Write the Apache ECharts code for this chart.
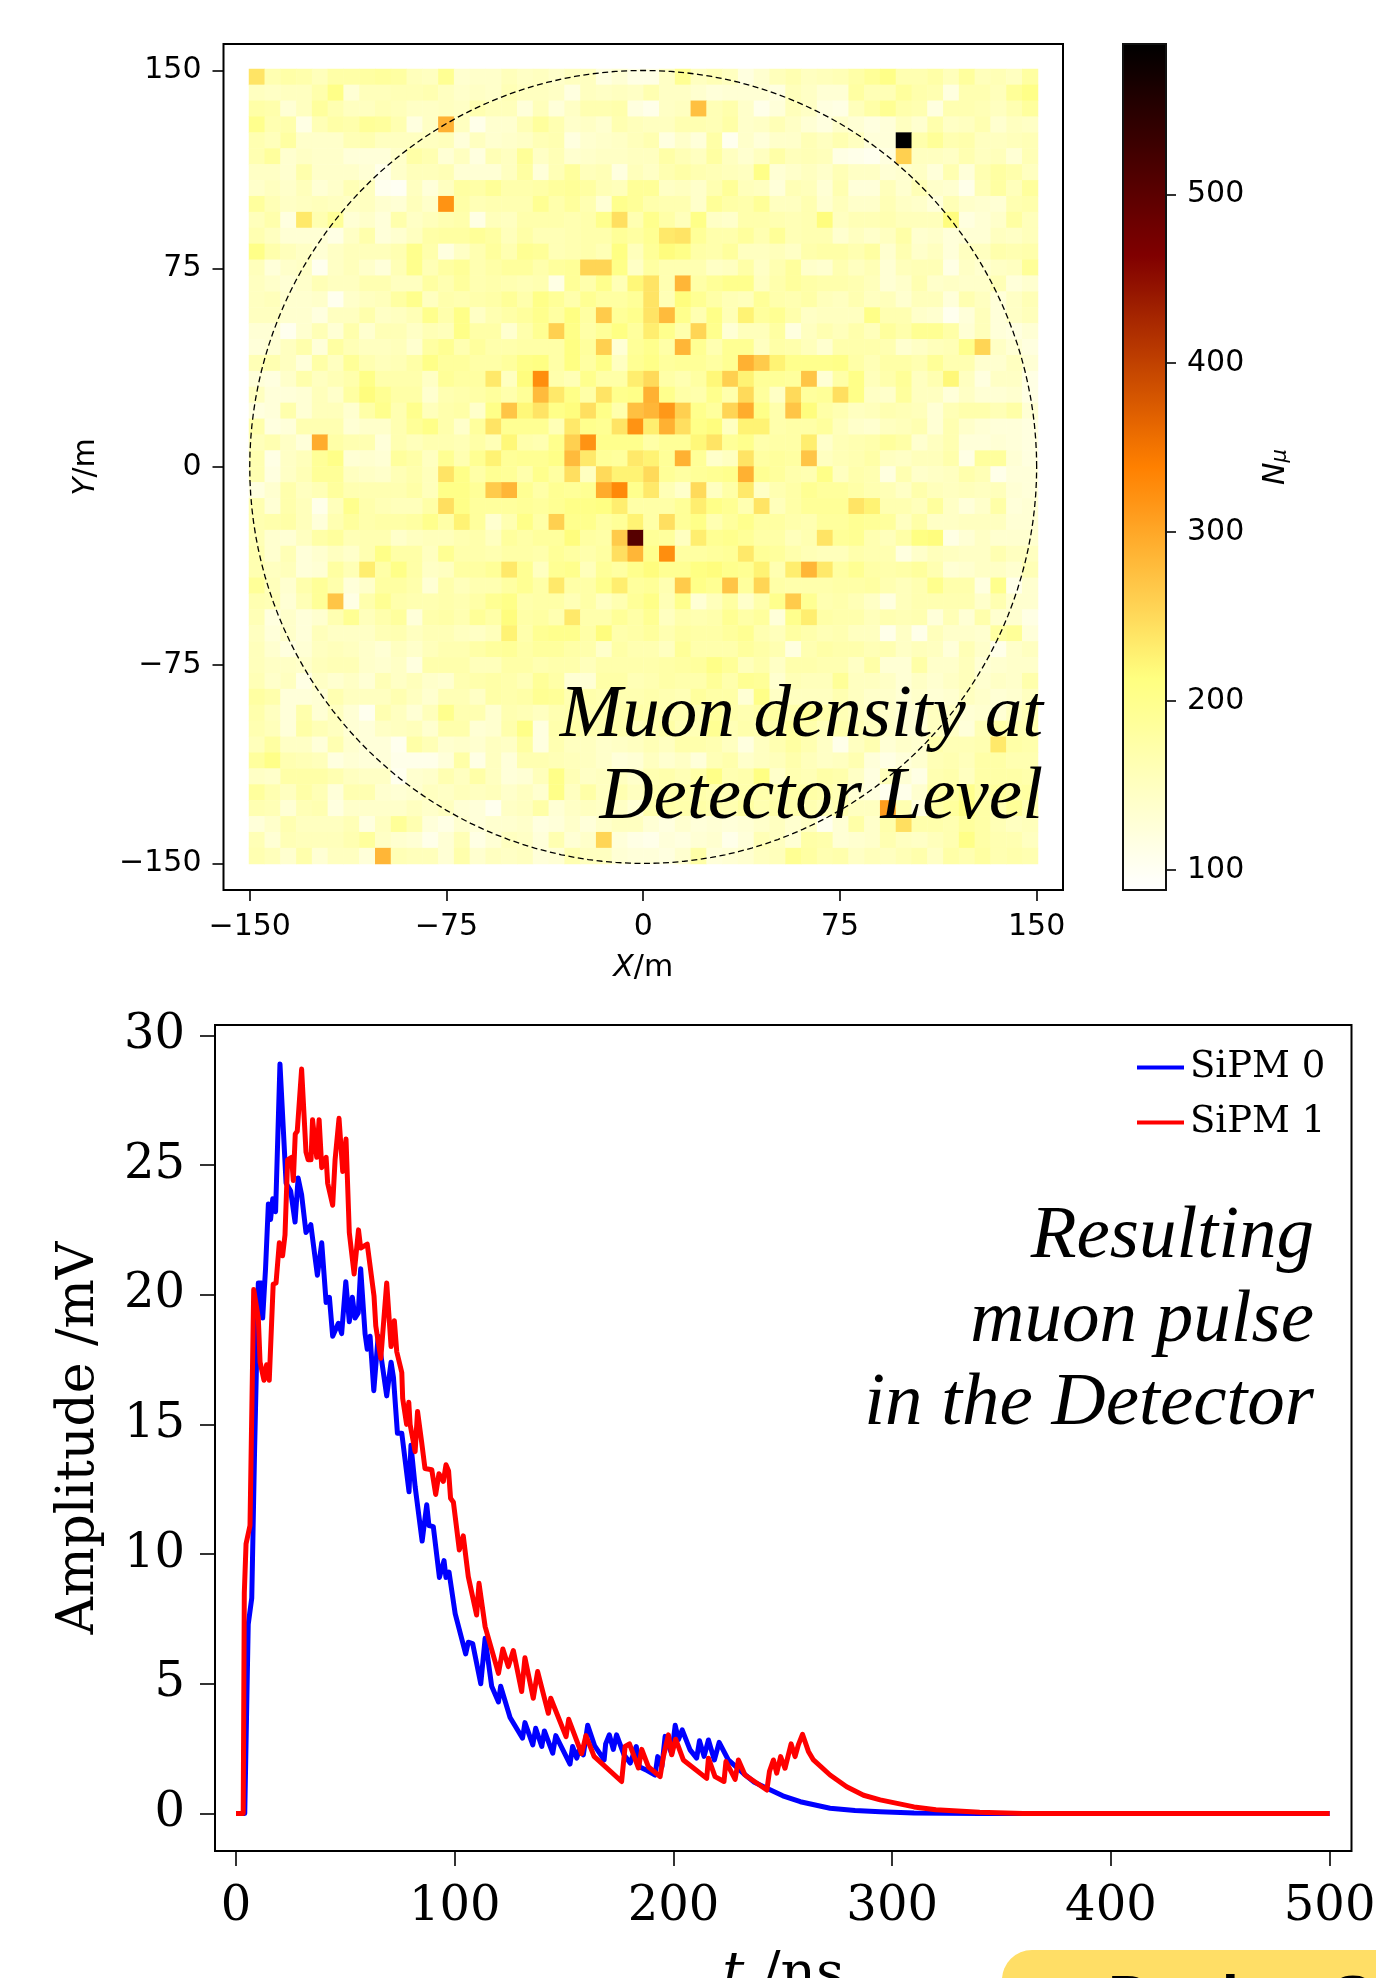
<!DOCTYPE html>
<html><head><meta charset="utf-8">
<style>html,body{margin:0;padding:0;background:#fff;overflow:hidden}#c{width:1376px;height:1978px}</style>
<script src="https://cdn.jsdelivr.net/npm/echarts@6/dist/echarts.min.js"></script>
</head><body><div id="c"></div>
<script>
// Muon counts per 6 m x 6 m cell, top row first
const r00=[240,165,175,170,155,175,175,180,185,180,155,150,195,135,140,140,155,145,150,140,150,150,120,130,115,115,145,195,150,160,150,120,135,155,165,150,155,160,175,190,205,165,165,175,155,185,155,160,150,180];
const r01=[150,145,150,150,170,205,130,155,155,160,160,165,150,140,145,140,160,150,150,145,120,150,145,150,145,165,145,145,135,125,130,130,130,120,155,145,130,130,180,160,160,185,170,165,120,165,165,155,190,205];
const r02=[175,170,130,150,185,165,150,150,160,155,145,145,150,145,165,155,155,125,155,125,145,165,165,170,120,110,145,150,275,160,170,140,110,125,155,145,120,115,155,175,195,170,165,120,165,165,160,150,165,185];
const r03=[200,165,170,115,160,175,170,190,185,165,120,145,290,150,110,135,135,160,185,165,140,145,135,165,155,150,150,165,165,160,175,140,145,160,145,130,120,140,130,120,125,150,135,170,145,150,165,135,150,145];
const r04=[165,155,180,140,140,140,160,165,150,150,150,150,155,125,150,135,140,145,160,165,120,135,140,145,155,165,120,140,125,175,105,140,125,140,140,160,150,165,150,125,125,589,170,190,165,170,150,150,155,160];
const r05=[165,185,135,145,140,140,125,125,125,140,175,165,130,150,120,160,150,190,145,160,135,140,145,145,150,150,175,160,150,180,150,135,150,175,155,160,155,115,110,105,120,260,150,150,145,165,150,155,130,160];
const r06=[145,145,135,170,140,140,140,130,110,140,155,155,160,130,130,130,150,180,125,160,185,155,160,120,155,145,165,175,165,160,155,150,205,130,140,150,140,160,145,145,130,135,145,125,165,125,165,180,170,150];
const r07=[140,150,140,155,130,140,160,150,105,100,150,125,150,180,175,190,170,170,175,185,190,180,160,155,190,190,145,150,140,165,190,155,150,125,160,155,130,165,125,125,155,135,160,140,135,110,160,180,155,185];
const r08=[185,160,145,150,155,150,145,150,135,130,155,140,320,175,160,165,165,165,195,170,185,165,130,200,190,170,165,165,140,190,175,170,190,150,150,165,135,155,140,140,160,145,140,125,160,140,135,130,165,170];
const r09=[155,170,120,235,165,190,130,140,125,170,145,155,165,170,115,155,150,170,170,170,165,170,200,245,165,200,175,155,205,145,140,170,170,165,160,165,215,150,160,160,165,155,155,155,215,120,130,140,180,155];
const r10=[165,150,130,130,130,115,145,170,125,135,150,175,180,180,190,180,155,175,160,160,165,170,170,190,180,195,235,240,190,170,170,185,165,190,160,165,165,135,150,140,150,175,135,140,125,130,130,150,145,155];
const r11=[205,170,155,145,130,145,155,155,155,165,200,170,120,145,165,185,165,195,190,160,165,170,160,210,155,190,215,205,175,170,185,150,150,155,145,170,175,175,165,180,135,165,140,150,125,150,150,170,165,170];
const r12=[155,125,140,145,105,145,155,140,125,160,200,160,180,190,165,175,185,185,170,185,190,255,255,205,145,180,165,165,165,145,150,175,145,165,185,140,135,165,150,160,130,155,160,160,115,145,135,145,150,190];
const r13=[150,140,130,140,160,150,150,165,165,150,150,180,165,185,165,170,165,160,165,115,190,170,200,160,220,240,165,285,175,190,200,200,150,170,185,175,170,170,165,155,130,140,165,140,145,140,140,160,125,135];
const r14=[150,155,135,135,140,105,140,150,155,180,200,150,170,165,170,175,190,170,205,190,170,195,180,180,190,240,160,215,195,175,160,155,190,170,165,175,155,150,165,150,155,135,155,155,125,165,150,125,145,160];
const r15=[150,150,135,135,120,150,150,170,145,150,160,200,170,205,145,165,175,185,200,180,210,180,265,190,200,240,280,200,165,205,160,225,185,195,170,145,150,150,150,205,165,165,140,135,105,125,155,125,145,155];
const r16=[130,130,105,135,160,130,170,135,160,160,145,160,155,205,175,175,135,170,195,260,205,175,190,210,185,230,200,170,255,200,130,155,155,180,120,150,165,155,170,155,185,170,195,195,175,130,155,125,120,130];
const r17=[125,130,150,170,125,180,160,150,150,155,135,180,195,165,185,170,170,175,175,175,210,185,260,130,190,200,175,285,195,165,195,195,150,175,170,155,135,170,170,170,165,135,145,155,160,200,255,145,130,120];
const r18=[160,165,150,125,175,150,190,165,155,160,175,205,185,185,175,175,185,205,210,175,210,180,205,150,195,205,185,190,190,180,195,290,265,225,200,200,200,205,175,160,175,175,165,190,165,165,135,135,150,130];
const r19=[125,120,140,170,150,160,170,205,170,170,170,145,190,180,180,235,150,215,325,170,160,200,175,175,230,250,175,165,180,220,260,225,190,190,185,270,130,175,205,155,170,190,150,165,220,150,120,145,145,115];
const r20=[150,125,125,130,155,140,180,215,195,175,175,135,165,170,175,185,170,190,280,235,205,175,240,200,205,290,200,175,170,200,170,250,185,145,250,185,190,245,205,145,140,185,150,150,125,145,130,130,135,115];
const r21=[120,125,170,130,155,155,135,175,200,165,200,155,170,175,140,205,270,220,240,205,215,245,205,170,275,285,315,260,200,185,255,295,205,170,270,215,175,165,150,155,165,160,155,130,160,170,170,160,175,130];
const r22=[170,120,125,165,165,165,130,140,140,165,190,205,170,140,185,240,195,195,195,160,235,200,195,240,320,230,290,245,205,215,150,225,225,170,175,175,185,155,140,135,150,155,165,130,165,140,130,125,125,120];
const r23=[155,165,145,125,295,175,165,165,125,165,155,165,165,160,175,160,220,170,165,200,260,320,200,200,200,175,190,190,220,240,190,200,170,175,175,230,140,160,165,170,185,175,135,150,165,125,125,130,125,120];
const r24=[165,115,145,155,190,205,130,135,130,185,175,150,195,165,195,225,190,195,195,205,280,235,190,185,235,225,190,290,190,140,150,240,180,185,180,270,150,160,165,175,150,145,155,155,170,115,185,185,130,120];
const r25=[165,120,145,160,190,190,150,145,140,160,170,155,240,205,175,195,190,170,200,180,245,150,250,225,225,250,190,180,190,195,200,290,195,185,170,165,205,150,170,165,120,165,140,145,150,170,160,110,125,125];
const r26=[120,135,170,150,160,185,165,165,165,165,175,155,205,205,190,265,285,195,175,195,190,195,295,330,200,235,160,140,250,150,175,235,145,165,175,195,185,185,175,165,160,145,170,155,150,155,150,155,130,125];
const r27=[165,130,170,155,110,155,200,170,160,155,155,175,245,205,185,185,185,190,185,195,205,205,210,230,175,175,175,190,230,205,195,165,240,155,175,190,190,190,240,225,165,165,155,185,145,125,140,175,125,130];
const r28=[165,170,175,155,125,165,185,170,175,175,180,200,175,225,185,135,165,205,175,260,200,200,180,190,225,175,245,190,205,165,185,200,180,180,170,165,185,185,195,190,185,150,175,145,145,150,150,150,130,130];
const r29=[160,135,130,150,175,185,160,165,165,140,150,155,155,165,170,150,185,175,185,185,215,180,175,265,505,190,185,150,230,195,200,190,175,175,155,165,240,190,195,165,155,175,210,215,115,130,145,135,135,135];
const r30=[165,135,160,125,135,150,140,165,205,175,175,150,195,170,170,165,175,175,170,190,180,170,180,245,285,200,325,180,180,185,190,235,190,185,170,160,155,155,170,165,165,120,140,155,150,145,145,165,150,150];
const r31=[165,150,155,125,130,180,160,230,175,205,175,145,150,180,180,190,235,195,150,195,200,155,190,180,200,215,195,195,210,215,200,195,225,165,230,285,235,180,195,175,170,175,185,165,130,135,145,145,135,160];
const r32=[190,155,135,170,190,170,125,140,180,180,170,130,170,155,165,165,180,195,175,235,175,175,200,230,185,190,165,265,205,195,270,185,255,175,170,170,170,175,175,180,165,155,165,200,170,170,120,200,110,135];
const r33=[165,160,130,160,190,270,115,170,195,170,165,165,170,165,175,195,205,170,175,175,160,175,150,165,190,205,160,200,130,155,180,140,170,200,265,195,165,170,160,145,120,155,165,165,165,165,140,165,135,135];
const r34=[160,120,140,125,135,165,195,155,170,185,125,170,175,165,190,175,215,175,180,165,235,170,170,190,175,195,150,170,165,170,195,175,185,125,200,230,175,170,170,155,165,160,165,125,160,130,170,135,135,115];
const r35=[150,125,140,125,155,145,145,145,160,165,150,160,160,150,145,155,225,170,195,200,200,175,215,170,175,185,165,180,175,175,185,195,165,155,180,170,160,165,150,150,110,145,110,155,140,140,135,180,190,125];
const r36=[155,135,120,130,150,155,150,140,130,150,140,155,165,165,175,185,190,175,185,185,175,170,140,175,165,165,150,190,170,170,170,185,175,165,120,165,175,170,170,160,165,145,155,150,125,160,140,110,140,150];
const r37=[155,145,145,140,155,160,160,140,135,145,120,170,170,170,155,155,175,175,165,170,170,155,170,170,170,170,175,180,185,205,190,155,170,145,170,170,165,165,145,175,130,130,175,140,140,155,130,135,140,140];
const r38=[160,140,150,115,145,135,145,130,160,145,155,140,135,165,170,175,170,160,190,175,130,130,175,175,160,165,175,170,170,190,170,195,190,135,160,155,155,190,150,150,145,130,145,135,145,155,135,145,140,170];
const r39=[180,170,125,125,130,165,150,150,150,165,150,135,160,160,145,175,170,175,195,190,165,170,165,165,165,170,165,160,185,175,175,130,205,145,150,150,150,165,150,140,140,130,140,130,135,150,140,130,135,150];
const r40=[170,150,125,170,130,150,130,105,165,150,130,155,200,165,165,135,165,160,150,165,170,165,170,170,175,170,165,165,165,185,170,165,175,180,170,190,170,160,150,145,140,130,130,150,145,130,135,130,150,160];
const r41=[165,155,125,175,160,150,130,125,145,150,155,135,170,170,130,135,170,205,120,170,175,165,165,170,155,165,175,160,160,195,160,170,165,170,185,170,155,170,160,150,140,130,130,150,145,125,160,175,165,165];
const r42=[155,180,145,145,125,165,135,125,125,105,175,160,135,140,135,150,145,180,120,165,150,150,140,145,150,160,150,170,170,165,150,120,150,165,180,165,145,110,150,165,130,140,135,170,160,160,165,235,175,170];
const r43=[185,205,165,160,155,120,130,125,125,110,110,110,125,175,115,150,125,165,165,160,155,150,140,125,130,150,135,145,125,160,170,140,150,155,170,155,145,150,165,125,115,125,135,160,165,155,175,175,165,165];
const r44=[145,140,175,175,175,165,150,145,145,105,135,140,165,150,175,150,125,130,155,205,160,145,150,150,140,165,170,160,175,205,165,170,210,140,165,160,175,170,145,120,155,130,115,165,170,150,175,175,175,170];
const r45=[185,165,150,175,160,125,165,165,135,130,135,150,145,155,150,155,140,150,135,205,150,175,150,165,150,170,170,175,170,165,160,170,170,165,175,175,170,160,130,120,105,110,135,175,180,200,175,185,175,180];
const r46=[165,160,130,160,165,120,140,140,140,140,150,140,150,130,125,105,145,150,175,130,145,150,145,145,130,170,175,170,175,170,165,180,165,175,170,165,155,165,150,150,310,165,120,175,185,210,175,165,190,165];
const r47=[125,140,165,150,150,150,160,120,150,190,165,125,115,135,125,135,135,140,120,125,140,125,140,150,150,130,120,135,125,130,125,130,140,150,135,145,105,130,175,140,170,245,170,170,165,185,175,160,150,155];
const r48=[160,130,160,155,155,155,165,185,145,135,130,110,130,160,115,130,150,145,125,165,130,140,255,125,115,110,125,120,130,135,110,125,160,150,130,175,170,130,135,140,165,150,145,155,165,205,175,165,165,150];
const r49=[165,155,135,170,130,150,150,125,285,160,155,155,130,170,135,150,145,150,125,130,165,150,150,130,125,125,120,135,175,125,130,135,150,155,195,180,165,170,145,155,150,160,170,145,175,165,180,165,170,165];
const muonRows=[r00,r01,r02,r03,r04,r05,r06,r07,r08,r09,r10,r11,r12,r13,r14,r15,r16,r17,r18,r19,r20,r21,r22,r23,r24,r25,r26,r27,r28,r29,r30,r31,r32,r33,r34,r35,r36,r37,r38,r39,r40,r41,r42,r43,r44,r45,r46,r47,r48,r49];

const mapTicks=[-150,-75,0,75,150];
const barTicks=[100,200,300,400,500];
const barStops=['#ffffff','#ffff80','#ff8000','#800000','#000000'];
const detector=[[0,0,150]];

const timeTicks=[0,100,200,300,400,500];
const ampTicks=[0,5,10,15,20,25,30];
const sipm0=[[0,0],[4,0],[5.6,7.3],[7.2,8.3],[8.5,14],[10.2,20.45],[11.7,20.45],[12.2,19.1],[13.5,21],[14.8,23.5],[15.8,22.9],[16.8,23.7],[18.1,23.2],[20.1,28.9],[22.9,24.3],[25,24],[27,22.8],[28.4,24.5],[30,23.85],[32,22.4],[34.2,22.7],[37.2,20.75],[39.2,22],[41.2,19.7],[42.7,19.9],[44.2,18.4],[46.8,18.9],[48.3,18.5],[50.2,20.5],[51.8,18.96],[53.2,19.9],[54.4,19.1],[55.9,19.3],[57,21],[59,18.5],[60,17.9],[61.3,18.4],[63,16.3],[65,18.4],[68.9,16.1],[70.9,17.4],[72,16.8],[73.8,14.66],[75.8,14.66],[79.1,12.4],[80,14.2],[81.9,12.6],[85.1,10.5],[87.2,11.9],[88.2,11.1],[90.2,11.06],[93,9.1],[95.1,9.75],[96,9.1],[97.4,9.3],[100.2,7.7],[105,6.15],[106.2,6.6],[108.2,6.55],[111.9,5],[113.9,6.75],[116.9,4.9],[120,4.3],[121,4.9],[125.3,3.7],[131,2.9],[132.1,3.5],[135.7,2.64],[137,3.28],[139.8,2.58],[141,3.18],[144.8,2.32],[146.2,3],[152.7,1.9],[153.9,2.58],[155.8,2.13],[156.9,2.45],[158.8,2.26],[160.8,3.4],[164,2.6],[168.3,2.06],[169,2.68],[170.7,3.03],[172.5,2.47],[174,3.03],[177.4,2.26],[180.2,1.94],[183,2.58],[184.4,1.8],[188,1.65],[191.6,1.48],[192.8,2.19],[194.7,1.8],[196.2,2.97],[199.2,2.3],[200.8,3.4],[202.3,2.85],[204,3.22],[207.6,2.45],[210.6,2.13],[211.9,2.8],[214,2.2],[216,2.83],[218.7,2.06],[220.9,2.74],[225.1,2.06],[232,1.54],[237,1.2],[242.7,0.97],[250,0.68],[258,0.45],[271.6,0.2],[283,0.11],[294.5,0.06],[310,0.02],[340,0],[500,0]];
const sipm1=[[0,0],[3.3,0],[3.8,8.5],[4.6,10.4],[6.4,11.1],[8.1,20.2],[10.2,19.1],[11,17.4],[12.8,16.7],[14,17.3],[15.2,16.7],[17,20.4],[18.3,20.45],[19.8,22],[21.3,21.5],[22.4,22.3],[23.6,25.2],[25.4,25.3],[26.2,24.4],[27.1,26.2],[28,26.3],[30,28.7],[32,25.5],[33,25.2],[34.3,25.2],[35,26.75],[36.9,25.3],[38,26.75],[39.2,24.9],[41.2,25.3],[41.9,24.3],[44.2,23.45],[45.3,25.2],[47.1,26.8],[48.8,24.75],[50.3,26],[51.8,22.4],[54,20.8],[56,22.5],[57,21.8],[60,21.95],[63.1,19.95],[63.9,18.8],[66.2,17.55],[68.9,20.45],[70.9,18],[72.4,19],[73.5,17.8],[75.8,17],[76.2,16],[78,15],[79,15.85],[79.6,15],[81.9,13.95],[83,15.5],[84.9,14.3],[86.4,13.3],[89.5,13.25],[91.3,12.3],[92.8,13.1],[94.8,12.8],[96,13.44],[97.2,13.2],[98.1,12.15],[99.4,12],[102.1,10.16],[103.9,10.7],[106.2,9.13],[110,7.65],[111.1,8.87],[113.9,7.2],[120,5.4],[122,6.34],[124.5,5.66],[126.8,6.28],[130.6,4.7],[132.1,6],[135.9,4.44],[137.9,5.47],[142.8,3.86],[143.9,4.44],[150.9,2.96],[152.1,3.63],[158,2.3],[160,3],[163.7,2.2],[176.3,1.23],[177.9,2.58],[179.9,2.68],[184,1.75],[185.5,2.47],[188.5,1.8],[193.9,1.42],[195.4,2.19],[197.7,3.03],[199.2,2.26],[201,2.86],[204.5,2.06],[215.2,1.35],[216,2.13],[219,1.42],[223.1,1.23],[224,2],[228.2,1.31],[229.7,2.06],[232.7,1.48],[242.7,0.9],[243.9,1.62],[245.7,2.06],[247.2,1.55],[249,2.19],[251,1.74],[253.8,2.68],[255.6,2.19],[257.1,2.64],[259,3.05],[261.7,2.39],[264,2.06],[271.6,1.48],[279.2,1.03],[286.9,0.7],[294.5,0.52],[310,0.25],[320,0.14],[340,0.04],[360,0],[500,0]];

const SANS='"DejaVu Sans"', SERIF='"DejaVu Serif"';
const heatData=[];
muonRows.forEach((row,y)=>row.forEach((v,x)=>heatData.push([x,y,v])));
const binsX=muonRows[0].map((_,i)=>String(i));
const binsY=muonRows.map((_,i)=>String(i));
const minus=v=>String(v).replace('-','\u2212');

function frameAxis(o){
  return Object.assign({type:'value',axisLine:{show:false,onZero:false},splitLine:{show:false}},o);
}
const chart=echarts.init(document.getElementById('c'),null,{renderer:'canvas',width:1376,height:1978});
chart.setOption({
  animation:false,backgroundColor:'#fff',
  grid:[
    {left:249,top:69,width:789,height:795,show:false,outerBoundsMode:'none'},
    {left:223.5,top:44,width:839.5,height:846,show:true,borderColor:'#000',borderWidth:2,backgroundColor:'transparent',z:5,outerBoundsMode:'none'},
    {left:1123,top:44,width:43,height:846,show:true,borderColor:'#111',borderWidth:2,backgroundColor:'transparent',z:5,outerBoundsMode:'none'},
    {left:215,top:1025,width:1136.5,height:826,show:true,borderColor:'#000',borderWidth:2,backgroundColor:'transparent',z:5,outerBoundsMode:'none'}
  ],
  xAxis:[
    {gridIndex:0,type:'category',data:binsX,show:false},
    frameAxis({gridIndex:1,min:-160,max:160.04,
      axisTick:{show:true,length:11,customValues:mapTicks,lineStyle:{color:'#000',width:1.6}},
      axisLabel:{customValues:mapTicks,formatter:minus,fontFamily:SANS,fontSize:30,color:'#000',margin:22},
      name:'{i|X}/m',nameLocation:'middle',nameGap:63,
      nameTextStyle:{fontFamily:SANS,fontSize:30,color:'#000',rich:{i:{fontFamily:SANS,fontStyle:'italic',fontSize:30,color:'#000'}}}}),
    {gridIndex:2,type:'value',show:false,min:0,max:1},
    frameAxis({gridIndex:3,min:-9.6,max:510,
      axisTick:{show:true,length:15,customValues:timeTicks,lineStyle:{color:'#000',width:1.6}},
      axisLabel:{customValues:timeTicks,fontFamily:SERIF,fontSize:48,color:'#000',margin:33},
      name:'{i|t} /ns',nameLocation:'middle',nameGap:97,
      nameTextStyle:{fontFamily:SERIF,fontSize:55,color:'#000',rich:{i:{fontFamily:SERIF,fontStyle:'italic',fontSize:55,color:'#000'}}}})
  ],
  yAxis:[
    {gridIndex:0,type:'category',data:binsY,inverse:true,show:false},
    frameAxis({gridIndex:1,min:-160.05,max:160,
      axisTick:{show:true,length:11,customValues:mapTicks,lineStyle:{color:'#000',width:1.6}},
      axisLabel:{customValues:mapTicks,formatter:minus,fontFamily:SANS,fontSize:30,color:'#000',margin:22,padding:[12,0,0,0]},
      name:'{i|Y}/m',nameLocation:'middle',nameGap:122,
      nameTextStyle:{fontFamily:SANS,fontSize:30,color:'#000',rich:{i:{fontFamily:SANS,fontStyle:'italic',fontSize:30,color:'#000'}}}}),
    frameAxis({gridIndex:2,position:'right',min:88,max:589,
      axisTick:{show:true,length:10,customValues:barTicks,lineStyle:{color:'#000',width:1.6}},
      axisLabel:{customValues:barTicks,fontFamily:SANS,fontSize:30,color:'#000',margin:21,padding:[14,0,0,0]},
      name:'{i|N}{s|\u03bc}',nameLocation:'middle',nameRotate:90,nameGap:95,
      nameTextStyle:{rich:{i:{fontFamily:SANS,fontStyle:'italic',fontSize:30,color:'#000'},s:{fontFamily:SANS,fontStyle:'italic',fontSize:21,color:'#000',verticalAlign:'bottom'}}}}),
    frameAxis({gridIndex:3,min:-1.45,max:30.4,
      axisTick:{show:true,length:15,customValues:ampTicks,lineStyle:{color:'#000',width:1.6}},
      axisLabel:{customValues:ampTicks,fontFamily:SERIF,fontSize:48,color:'#000',margin:30,padding:[13,0,0,0]},
      name:'Amplitude /mV',nameLocation:'middle',nameGap:110,
      nameTextStyle:{fontFamily:SERIF,fontSize:52,color:'#000'}})
  ],
  visualMap:{type:'continuous',seriesIndex:0,min:88,max:589,left:1123,top:44,itemWidth:43,itemHeight:846,padding:0,
    calculable:false,hoverLink:false,inRange:{color:barStops},text:null,textStyle:{fontSize:0}},
  legend:{data:['SiPM 0','SiPM 1'],orient:'vertical',left:1137,top:1049,padding:0,itemWidth:47,itemHeight:4,itemGap:18,
    icon:'rect',textStyle:{fontFamily:SERIF,fontSize:37,color:'#000',padding:[0,0,0,1]},selectedMode:false},
  series:[
    {type:'heatmap',xAxisIndex:0,yAxisIndex:0,data:heatData,progressive:0,silent:true,z:1,emphasis:{disabled:true}},
    {type:'custom',xAxisIndex:1,yAxisIndex:1,data:detector,silent:true,z:3,clip:false,
      encode:{x:0,y:1},
      renderItem:(p,api)=>{
        const cx=api.value(0),cy=api.value(1),rad=api.value(2),pts=[];
        for(let d=0;d<=360;d+=2){
          const a=d*Math.PI/180;
          pts.push(api.coord([cx+rad*Math.cos(a),cy+rad*Math.sin(a)]));
        }
        return {type:'polyline',shape:{points:pts},style:{fill:'none',stroke:'#000',lineWidth:1.3,lineDash:[6,3.5]}};
      }},
    {type:'line',name:'SiPM 0',xAxisIndex:3,yAxisIndex:3,data:sipm0,symbol:'none',z:3,silent:true,lineStyle:{color:'#0000ff',width:5,join:'round'},itemStyle:{color:'#0000ff'}},
    {type:'line',name:'SiPM 1',xAxisIndex:3,yAxisIndex:3,data:sipm1,symbol:'none',z:4,silent:true,lineStyle:{color:'#ff0000',width:5,join:'round'},itemStyle:{color:'#ff0000'}}
  ],
  graphic:[
    {type:'text',z:50,x:1043,y:716,style:{text:'Muon density at',font:'italic 75px "Liberation Serif"',fill:'#000',textAlign:'right',textVerticalAlign:'middle'}},
    {type:'text',z:50,x:1043,y:798,style:{text:'Detector Level',font:'italic 75px "Liberation Serif"',fill:'#000',textAlign:'right',textVerticalAlign:'middle'}},
    {type:'text',z:50,x:1314,y:1237,style:{text:'Resulting',font:'italic 75px "Liberation Serif"',fill:'#000',textAlign:'right',textVerticalAlign:'middle'}},
    {type:'text',z:50,x:1314,y:1321,style:{text:'muon pulse',font:'italic 75px "Liberation Serif"',fill:'#000',textAlign:'right',textVerticalAlign:'middle'}},
    {type:'text',z:50,x:1314,y:1404,style:{text:'in the Detector',font:'italic 75px "Liberation Serif"',fill:'#000',textAlign:'right',textVerticalAlign:'middle'}},
    {type:'rect',z:60,shape:{x:1002,y:1950,width:500,height:200,r:30},style:{fill:'#ffde66'}},
    {type:'text',z:61,x:1108,y:1970,style:{text:'Design S',font:'bold 62px "Liberation Sans"',fill:'#000',textAlign:'left',textVerticalAlign:'top'}}
  ]
});
</script></body></html>
